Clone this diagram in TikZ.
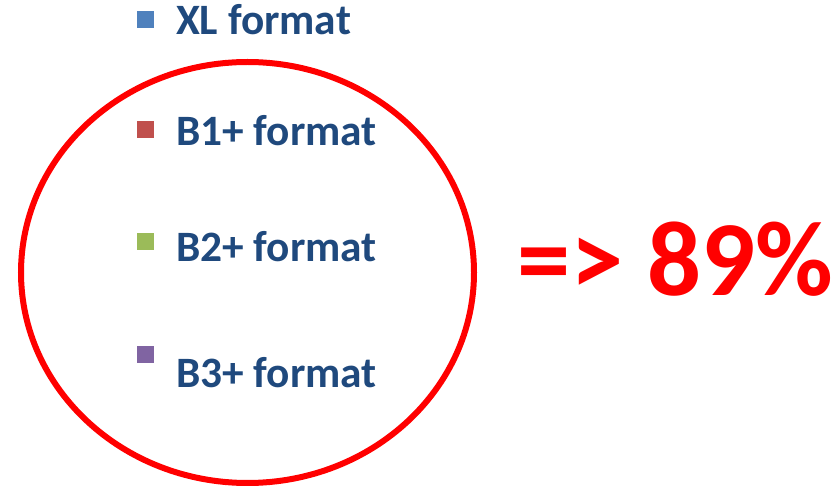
\documentclass[tikz,border=0pt]{standalone}
\usepackage{fontspec}
\setmainfont{Carlito}
\definecolor{txtblue}{HTML}{1F497D}
\definecolor{sqblue}{HTML}{4F81BD}
\definecolor{sqred}{HTML}{C0504D}
\definecolor{sqgreen}{HTML}{9BBB59}
\definecolor{sqpurple}{HTML}{8064A2}
\definecolor{ringred}{HTML}{FF0000}
\tikzset{
  sq/.style={draw=none, minimum size=17bp, inner sep=0pt, outer sep=0pt},
  lbl/.style={anchor=base west, inner sep=0pt, outer sep=0pt, text=txtblue,
    font=\fontsize{43.5}{50}\selectfont\bfseries},
  ring/.style={draw=ringred, line width=6bp},
  big/.style={anchor=base west, inner sep=0pt, outer sep=0pt, text=ringred,
    font=\fontsize{107}{120}\selectfont\bfseries}
}
\begin{document}
\begin{tikzpicture}[x=1bp,y=-1bp]
\useasboundingbox (0,0) rectangle (837,486);
\draw[ring] (247.5,272.5) ellipse [x radius=226.5, y radius=210.5];
\node[sq, fill=sqblue] (s0) at (145,19.5) {};
\node[sq, fill=sqred] (s1) at (145,130) {};
\node[sq, fill=sqgreen] (s2) at (145,242) {};
\node[sq, fill=sqpurple] (s3) at (145,354) {};
\node[lbl] (t0) at (176,35) {XL format};
\node[lbl] (t1) at (176,146) {B1+ format};
\node[lbl] (t2) at (176,262) {B2+ format};
\node[lbl] (t3) at (176,387) {B3+ format};
\node[big] (pct) at (517,296) {=> 89\%};
\end{tikzpicture}
\end{document}
